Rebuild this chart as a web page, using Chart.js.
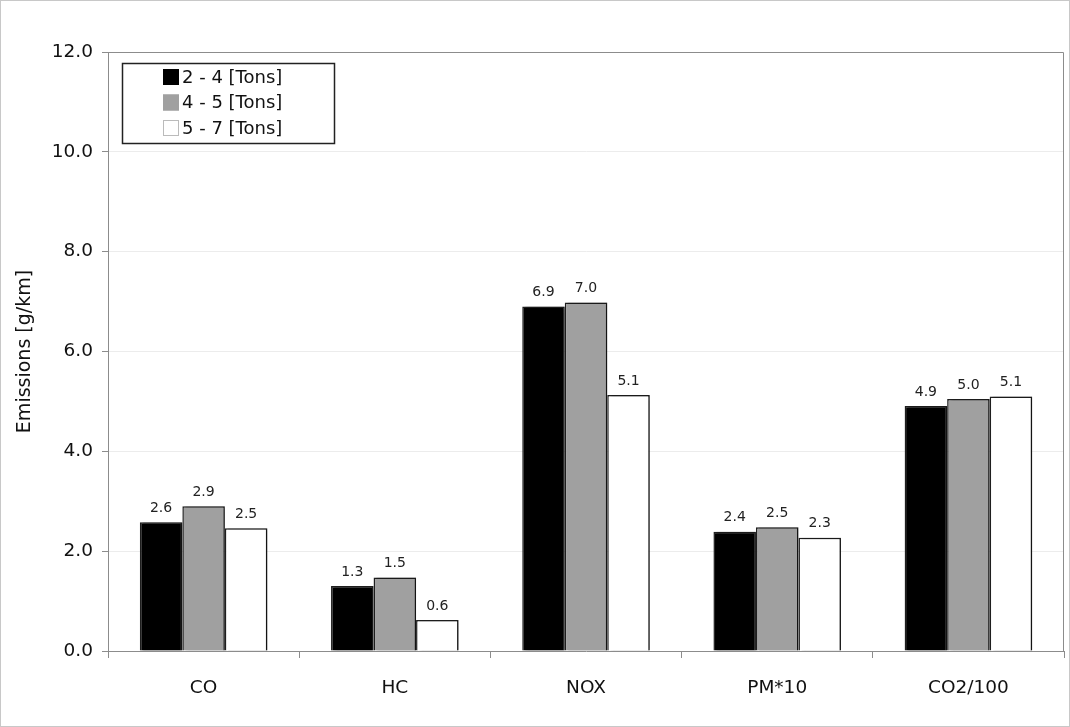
<!DOCTYPE html>
<html>
<head>
<meta charset="utf-8">
<script src="https://cdn.jsdelivr.net/npm/chart.js@4.4.1/dist/chart.umd.min.js"></script>
<style>
  html, body { margin: 0; padding: 0; background: #fff; }
  #wrap { width: 1070px; height: 727px; position: relative; }
</style>
</head>
<body>
<div id="wrap"><canvas id="c" width="1070" height="727"></canvas></div>
<script>
const categories = ['CO', 'HC', 'NOX', 'PM*10', 'CO2/100'];
const seriesLabels = ['2 - 4 [Tons]', '4 - 5 [Tons]', '5 - 7 [Tons]'];
const tons2to4 = [2.58, 1.30, 6.90, 2.39, 4.91];
const tons4to5 = [2.90, 1.47, 6.98, 2.48, 5.05];
const tons5to7 = [2.46, 0.62, 5.13, 2.27, 5.10];
const yTicks = [0, 2, 4, 6, 8, 10, 12];

const FONT = "'DejaVu Sans', Verdana, sans-serif";

const shadowPlugin = {
  id: 'barShadow',
  beforeDatasetsDraw(chart) {
    const ctx = chart.ctx;
    ctx.save();
    ctx.shadowColor = 'rgba(0,0,0,0.35)';
    ctx.shadowOffsetX = 3;
    ctx.shadowOffsetY = 0;
    ctx.shadowBlur = 2;
  },
  afterDatasetsDraw(chart) {
    chart.ctx.restore();
  }
};

const labelsPlugin = {
  id: 'valueLabels',
  afterDatasetsDraw(chart) {
    const ctx = chart.ctx;
    ctx.save();
    ctx.font = '14px ' + FONT;
    ctx.fillStyle = '#222';
    ctx.textAlign = 'center';
    ctx.textBaseline = 'bottom';
    chart.data.datasets.forEach((ds, i) => {
      const meta = chart.getDatasetMeta(i);
      meta.data.forEach((bar, j) => {
        ctx.fillText(ds.data[j].toFixed(1), bar.x, bar.y - 7);
      });
    });
    ctx.restore();
  }
};

const framePlugin = {
  id: 'frame',
  beforeDraw(chart) {
    const ctx = chart.ctx;
    ctx.save();
    ctx.fillStyle = '#fff';
    ctx.fillRect(0, 0, chart.width, chart.height);
    ctx.strokeStyle = '#c8c8c8';
    ctx.lineWidth = 1;
    ctx.strokeRect(0.5, 0.5, chart.width - 1, chart.height - 1);
    ctx.restore();
  },
  afterDraw(chart) {
    const ctx = chart.ctx;
    const a = chart.chartArea;
    ctx.save();
    ctx.strokeStyle = '#8c8c8c';
    ctx.lineWidth = 1;
    ctx.beginPath();
    ctx.moveTo(Math.round(a.left) + 0.5, Math.round(a.top) + 0.5);
    ctx.lineTo(Math.round(a.right) - 0.5, Math.round(a.top) + 0.5);
    ctx.lineTo(Math.round(a.right) - 0.5, Math.round(a.bottom) + 0.5);
    ctx.stroke();
    // legend box
    const bx = 122.5, by = 63.5, bw = 212, bh = 80;
    ctx.fillStyle = '#fff';
    ctx.fillRect(bx, by, bw, bh);
    ctx.strokeStyle = '#222';
    ctx.lineWidth = 1.5;
    ctx.strokeRect(bx, by, bw, bh);
    ctx.font = '18px ' + FONT;
    ctx.textBaseline = 'middle';
    ctx.textAlign = 'left';
    chart.data.datasets.forEach((ds, i) => {
      const cy = 77 + i * 25.5;
      ctx.fillStyle = ds.backgroundColor;
      ctx.fillRect(163, cy - 8, 16, 16);
      ctx.strokeStyle = i === 2 ? '#bbb' : ds.backgroundColor;
      ctx.lineWidth = 1;
      ctx.strokeRect(163.5, cy - 7.5, 15, 15);
      ctx.fillStyle = '#111';
      ctx.fillText(ds.label, 182, cy + 1);
    });
    ctx.restore();
  }
};

const barStyle = { borderColor: '#1e1e1e', borderWidth: 1.5, borderSkipped: 'bottom', categoryPercentage: 0.667, barPercentage: 1.0 };

new Chart(document.getElementById('c'), {
  type: 'bar',
  data: {
    labels: categories,
    datasets: [
      Object.assign({ label: seriesLabels[0], data: tons2to4, backgroundColor: '#000000' }, barStyle),
      Object.assign({ label: seriesLabels[1], data: tons4to5, backgroundColor: '#a0a0a0' }, barStyle),
      Object.assign({ label: seriesLabels[2], data: tons5to7, backgroundColor: '#ffffff' }, barStyle)
    ]
  },
  options: {
    responsive: false,
    animation: false,
    devicePixelRatio: 1,
    layout: { padding: { left: 0, right: 6, top: 52, bottom: 0 } },
    plugins: { legend: { display: false }, tooltip: { enabled: false } },
    scales: {
      x: {
        offset: true,
        grid: { offset: true, drawOnChartArea: false, color: '#8c8c8c', tickLength: 7 },
        border: { color: '#8c8c8c' },
        ticks: { font: { family: FONT, size: 18.5 }, color: '#111', padding: 19 },
        afterFit(s) { s.height = 76; }
      },
      y: {
        min: 0, max: 12,
        afterBuildTicks(s) { s.ticks = yTicks.map(v => ({ value: v })); },
        grid: {
          color: (c) => (c.tick && (c.tick.value === 0 || c.tick.value === 12)) ? 'rgba(0,0,0,0)' : '#ececec',
          tickColor: '#8c8c8c', tickLength: 6
        },
        border: { color: '#8c8c8c' },
        ticks: { font: { family: FONT, size: 18.5 }, color: '#111', padding: 9, callback: (v) => Number(v).toFixed(1) },
        title: { display: true, text: 'Emissions [g/km]', font: { family: FONT, size: 19 }, color: '#111', padding: { top: 14, bottom: 0 } },
        afterFit(s) { s.width = 108; }
      }
    }
  },
  plugins: [framePlugin, shadowPlugin, labelsPlugin]
});
</script>
</body>
</html>
